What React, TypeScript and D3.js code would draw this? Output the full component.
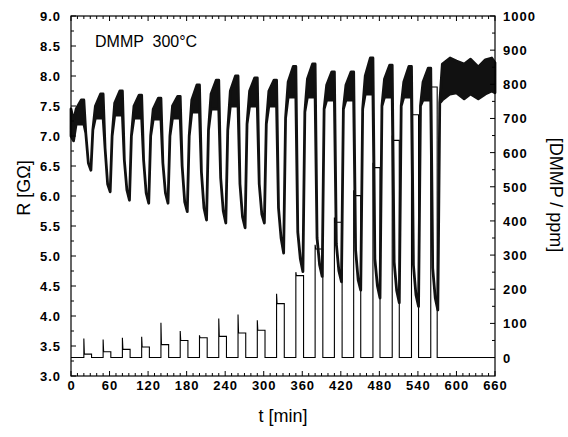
import React from 'react'
import * as d3 from 'd3'

// DMMP pulses: start / end time [min], plateau and overshoot [ppm]
const pulseStart = [20, 50, 80, 110, 140, 170, 200, 230, 260, 290, 320, 350, 380, 410, 440, 470, 500, 530, 560]
const pulseEnd = [32, 62, 92, 122, 152, 182, 212, 242, 272, 302, 332, 362, 392, 422, 451, 481, 511, 541, 570]
const pulseLevel = [10, 17, 24, 31, 38, 50, 58, 62, 72, 80, 158, 240, 318, 396, 474, 556, 636, 711, 792]
const pulseSpike = [56, 53, 58, 61, 102, 78, 65, 114, 126, 109, 187, 250, 330, 410, 490, 570, 650, 725, 805]

// resistance [GOhm] per cycle
const rMid = [7.45, 7.5, 7.55, 7.5, 7.45, 7.5, 7.6, 7.7, 7.75, 7.75, 7.75, 7.9, 7.95, 7.85, 7.85, 8.0, 7.95, 7.9, 7.9]
const rPeak = [7.6, 7.7, 7.75, 7.68, 7.63, 7.66, 7.85, 7.93, 8.0, 7.97, 7.93, 8.16, 8.2, 8.07, 8.07, 8.3, 8.18, 8.16, 8.13]
const rFloor = [7.2, 7.3, 7.35, 7.3, 7.28, 7.3, 7.4, 7.45, 7.5, 7.5, 7.5, 7.65, 7.65, 7.6, 7.6, 7.7, 7.65, 7.65, 7.6]
const rKnee = [7.05, 6.8, 6.6, 6.6, 6.55, 6.5, 6.4, 6.3, 6.2, 6.2, 5.8, 5.4, 5.3, 5.2, 5.1, 4.95, 4.9, 4.85, 4.8]
const rDecay = [6.55, 6.2, 6.1, 6.05, 6.05, 5.9, 5.8, 5.75, 5.65, 5.7, 5.3, 4.95, 4.85, 4.75, 4.6, 4.5, 4.42, 4.35, 4.3]
const rMin = [6.43, 6.07, 5.93, 5.88, 5.88, 5.74, 5.6, 5.55, 5.47, 5.55, 5.05, 4.74, 4.66, 4.57, 4.43, 4.3, 4.22, 4.16, 4.1]
const rBack = [7.1, 7.0, 7.0, 7.0, 7.0, 7.0, 7.1, 7.1, 7.2, 7.2, 7.3, 7.4, 7.45, 7.45, 7.45, 7.5, 7.5, 7.5, 7.55]

// [t, low, high] before the first pulse and after the last one
const startTrace = [[0, 7.0, 7.45], [4, 6.92, 7.25]]
const endTrace = [[578, 7.6, 8.2], [590, 7.7, 8.3], [600, 7.72, 8.25], [612, 7.62, 8.2], [622, 7.7, 8.28], [634, 7.62, 8.15], [645, 7.7, 8.27], [655, 7.75, 8.3], [660, 7.72, 8.22]]

const rTicks = [3.0, 3.5, 4.0, 4.5, 5.0, 5.5, 6.0, 6.5, 7.0, 7.5, 8.0, 8.5, 9.0]
const cTicks = [0, 100, 200, 300, 400, 500, 600, 700, 800, 900, 1000]
const tTicks = [0, 60, 120, 180, 240, 300, 360, 420, 480, 540, 600, 660]

const W = 568, H = 437
const left = 71, right = 495, top = 16, bottom = 376

export default function App() {
  const x = d3.scaleLinear().domain([0, 660]).range([left, right])
  const yR = d3.scaleLinear().domain([3, 9]).range([bottom, top])
  const yC = d3.scaleLinear().domain([-54, 1000]).range([bottom, top])

  // resistance trace as noisy band
  const rows: number[][] = [...startTrace]
  pulseStart.forEach((t0, k) => {
    rows.push([t0 - 12, rFloor[k], rMid[k]])
    rows.push([t0 - 4, rFloor[k], rPeak[k]])
    rows.push([t0, rFloor[k], rPeak[k]])
    rows.push([t0 + 3, rKnee[k], rKnee[k]])
    rows.push([t0 + 7, rDecay[k], rDecay[k]])
    rows.push([t0 + 11, rMin[k], rMin[k]])
    rows.push([t0 + 14, rBack[k], rBack[k]])
  })
  endTrace.forEach(r => rows.push(r))
  const band = d3.area<number[]>()
    .x(d => x(d[0]))
    .y0(d => yR(d[1]))
    .y1(d => yR(d[2]))(rows)

  // concentration step line
  const conc: number[][] = [[0, 0]]
  pulseStart.forEach((t0, k) => {
    conc.push([t0, 0], [t0, pulseSpike[k]], [t0 + 0.8, pulseLevel[k]], [pulseEnd[k], pulseLevel[k]], [pulseEnd[k], 0])
  })
  conc.push([660, 0])
  const concPath = d3.line<number[]>().x(d => x(d[0])).y(d => yC(d[1]))(conc)

  const lblStyle = { fontFamily: 'Liberation Sans, Arial, sans-serif', fontWeight: 700, fontSize: 13, letterSpacing: 1 }
  const titleStyle = { fontFamily: 'Liberation Sans, Arial, sans-serif', fontSize: 18 }

  const rMinor = d3.range(3, 9.01, 0.25)
  const tMinor = d3.range(0, 661, 10)
  const cMinor = d3.range(0, 1001, 50)

  return (
    <svg width={W} height={H} style={{ position: 'absolute', left: 0, top: 0, background: '#fff' }}>
      <rect x={0} y={0} width={W} height={H} fill="#fff" />

      <path d={concPath || ''} fill="none" stroke="#000" strokeWidth={1.1} />
      <path d={band || ''} fill="#111" stroke="#111" strokeWidth={2.8} strokeLinejoin="round" />

      <rect x={left} y={top} width={right - left} height={bottom - top} fill="none" stroke="#000" strokeWidth={1.2} />

      {/* left axis */}
      {rMinor.map(v => (
        <line key={'rm' + v} x1={left} x2={left + (Math.abs(v * 2 - Math.round(v * 2)) < 0.01 ? 5 : 3)} y1={yR(v)} y2={yR(v)} stroke="#000" />
      ))}
      {rTicks.map(v => (
        <text key={'rl' + v} x={61} y={yR(v) + 5} textAnchor="end" style={lblStyle}>{v.toFixed(1)}</text>
      ))}

      {/* right axis */}
      {cMinor.map(v => (
        <line key={'cm' + v} x1={right} x2={right - (v % 100 === 0 ? 5 : 3)} y1={yC(v)} y2={yC(v)} stroke="#000" />
      ))}
      {cTicks.map(v => (
        <text key={'cl' + v} x={503} y={yC(v) + 5} style={lblStyle}>{v}</text>
      ))}

      {/* bottom and top axis */}
      {tMinor.map(v => {
        const len = v % 60 === 0 ? 5 : 3
        return (
          <g key={'tm' + v}>
            <line x1={x(v)} x2={x(v)} y1={bottom} y2={bottom - len} stroke="#000" />
            <line x1={x(v)} x2={x(v)} y1={top} y2={top + len} stroke="#000" />
          </g>
        )
      })}
      {tTicks.map(v => (
        <text key={'tl' + v} x={x(v) + 0.5} y={390} textAnchor="middle" style={lblStyle}>{v}</text>
      ))}

      <text x={283} y={422} textAnchor="middle" style={titleStyle}>t [min]</text>
      <text transform="translate(30,188) rotate(-90)" textAnchor="middle" style={titleStyle}>R [GΩ]</text>
      <text transform="translate(550,195) rotate(90)" textAnchor="middle" style={titleStyle}>[DMMP / ppm]</text>
      <text x={95} y={47} style={{ ...titleStyle, fontSize: 16, whiteSpace: 'pre' }}>{'DMMP  300°C'}</text>
    </svg>
  )
}
